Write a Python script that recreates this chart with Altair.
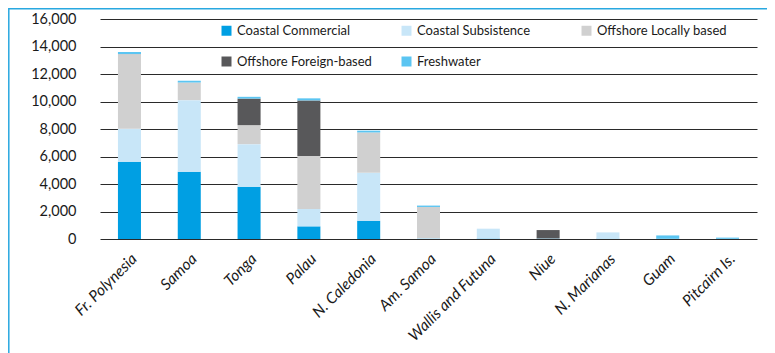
import altair as alt
import pandas as pd

countries = ["Fr. Polynesia", "Samoa", "Tonga", "Palau", "N. Caledonia", "Am. Samoa",
             "Wallis and Futuna", "Niue", "N. Marianas", "Guam", "Pitcairn Is."]
series = ["Coastal Commercial", "Coastal Subsistence", "Offshore Locally based",
          "Offshore Foreign-based", "Freshwater"]
colors = ["#009fe3", "#c8e6f8", "#d0d0d0", "#58585a", "#5bc5f2"]

coastal_commercial = [5620, 4900, 3800, 920, 1330, 20, 30, 20, 20, 20, 30]
coastal_subsistence = [2400, 5200, 3100, 1260, 3490, 40, 720, 20, 460, 0, 0]
offshore_local = [5430, 1280, 1380, 3850, 2930, 2270, 0, 0, 0, 0, 0]
offshore_foreign = [0, 0, 1930, 4050, 0, 0, 0, 610, 0, 0, 0]
freshwater = [150, 130, 130, 150, 130, 100, 0, 0, 0, 240, 70]

values = [coastal_commercial, coastal_subsistence, offshore_local, offshore_foreign, freshwater]
rows = []
for si, (s, vals) in enumerate(zip(series, values)):
    for c, v in zip(countries, vals):
        rows.append({"Country": c, "Source": s, "Value": v, "order": si})
df = pd.DataFrame(rows)

FONT = "Lato"

bars = alt.Chart(df).mark_bar().encode(
    x=alt.X("Country:N", sort=countries, title=None,
            scale=alt.Scale(paddingInner=0.615, paddingOuter=0.3),
            axis=alt.Axis(labelAngle=-45, labelFontSize=15.5, labelFont=FONT, labelColor="#1a1a1a",
                          labelFontStyle="italic",
                          domain=False, ticks=False, labelPadding=12, grid=False)),
    y=alt.Y("sum(Value):Q", title=None,
            scale=alt.Scale(domain=[0, 16000]),
            axis=alt.Axis(values=list(range(0, 16001, 2000)), format=",.0f", labelFontSize=14.5,
                          labelFont=FONT, labelColor="#1a1a1a", domain=False, ticks=False,
                          labelPadding=24, gridColor="#2a2a2a", gridWidth=1)),
    color=alt.Color("Source:N", sort=series,
                    scale=alt.Scale(domain=series, range=colors),
                    legend=alt.Legend(title=None, orient="none", legendX=120, legendY=5,
                                      direction="horizontal",
                                      columns=3, gridAlign="all", columnPadding=28, rowPadding=17,
                                      symbolType="square", symbolSize=100, symbolStrokeWidth=0,
                                      labelFontSize=13, labelFont=FONT, labelColor="#1a1a1a",
                                      labelLimit=300)),
    order=alt.Order("order:Q", sort="ascending"),
)

frame = alt.Chart(pd.DataFrame({"a": [0]})).mark_rect(
    filled=False, stroke="#29a8e0", strokeWidth=1.5
).encode(x=alt.value(-91.2), x2=alt.value(800), y=alt.value(-10.2), y2=alt.value(400))

chart = alt.layer(frame, bars).properties(
    width=657, height=220,
    autosize=alt.AutoSizeParams(type="none"),
    padding={"left": 92, "top": 11, "right": 10, "bottom": 120},
    background="white",
).configure_view(stroke=None)

chart.save("out.html", embed_options={"renderer": "svg", "actions": False})
